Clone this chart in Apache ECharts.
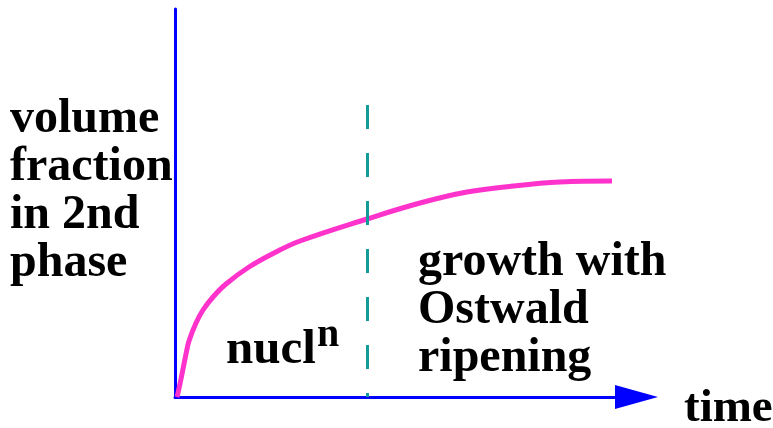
<!DOCTYPE html>
<html>
<head>
<meta charset="utf-8">
<script src="https://cdn.jsdelivr.net/npm/echarts@6/dist/echarts.min.js"></script>
<style>
  html, body { margin: 0; padding: 0; background: #fff; }
  #chart { width: 773px; height: 428px; }
</style>
</head>
<body>
<div id="chart"></div>
<script>
// curve points (arbitrary time / fraction units)
const timeVals = [2, 3, 4.5, 6, 8, 11, 14, 21, 28, 38, 51, 74, 101, 125, 192, 245, 292, 338, 385, 437]
const fracVals = [0, 4, 11, 18, 28, 43, 56, 74, 87, 100, 113, 130, 145, 156, 178, 194, 205, 211, 215, 216]
// where nucleation ends
const nuclEnd = 192
const dashTop = 292

const xMax = 461.5
const yMax = 388

const serif = '"Liberation Serif", "Times New Roman", serif'

var myChart = echarts.init(document.getElementById('chart'))

var option = {
  animation: false,
  grid: { left: 175, top: 9, right: 136.5, bottom: 31 },
  xAxis: {
    type: 'value',
    min: 0,
    max: xMax,
    axisLine: {
      show: true,
      symbol: ['none', 'triangle'],
      symbolSize: [24, 43],
      lineStyle: { color: '#0000ff', width: 3 }
    },
    axisTick: { show: false },
    axisLabel: { show: false },
    splitLine: { show: false }
  },
  yAxis: {
    type: 'value',
    min: 0,
    max: yMax,
    axisLine: {
      show: true,
      lineStyle: { color: '#0000ff', width: 3 }
    },
    axisTick: { show: false },
    axisLabel: { show: false },
    splitLine: { show: false }
  },
  series: [
    {
      type: 'line',
      data: timeVals.map((t, i) => [t, fracVals[i]]),
      smooth: 0.4,
      showSymbol: false,
      lineStyle: { color: '#ff33cc', width: 5 },
      markLine: {
        silent: true,
        symbol: 'none',
        label: { show: false },
        lineStyle: { color: '#139a9a', width: 3, type: [24, 24] },
        data: [
          [{ coord: [nuclEnd, dashTop] }, { coord: [nuclEnd, 0] }]
        ]
      }
    }
  ],
  graphic: [
    {
      type: 'text', left: 10, top: 96,
      style: {
        text: 'volume\nfraction\nin 2nd\nphase',
        font: 'bold 48px ' + serif, lineHeight: 48, fill: '#000'
      }
    },
    {
      type: 'text', left: 418, top: 239,
      style: {
        text: 'growth with\nOstwald\nripening',
        font: 'bold 48px ' + serif, lineHeight: 48, fill: '#000'
      }
    },
    {
      type: 'text', left: 226, top: 326,
      style: { text: 'nucl', font: 'bold 49px ' + serif, lineHeight: 48, fill: '#000' }
    },
    {
      type: 'text', left: 317, top: 316,
      style: { text: 'n', font: 'bold 40px ' + serif, lineHeight: 40, fill: '#000' }
    },
    {
      type: 'text', left: 684, top: 385,
      style: { text: 'time', font: 'bold 47px ' + serif, lineHeight: 48, fill: '#000' }
    }
  ]
}

myChart.setOption(option)
</script>
</body>
</html>
